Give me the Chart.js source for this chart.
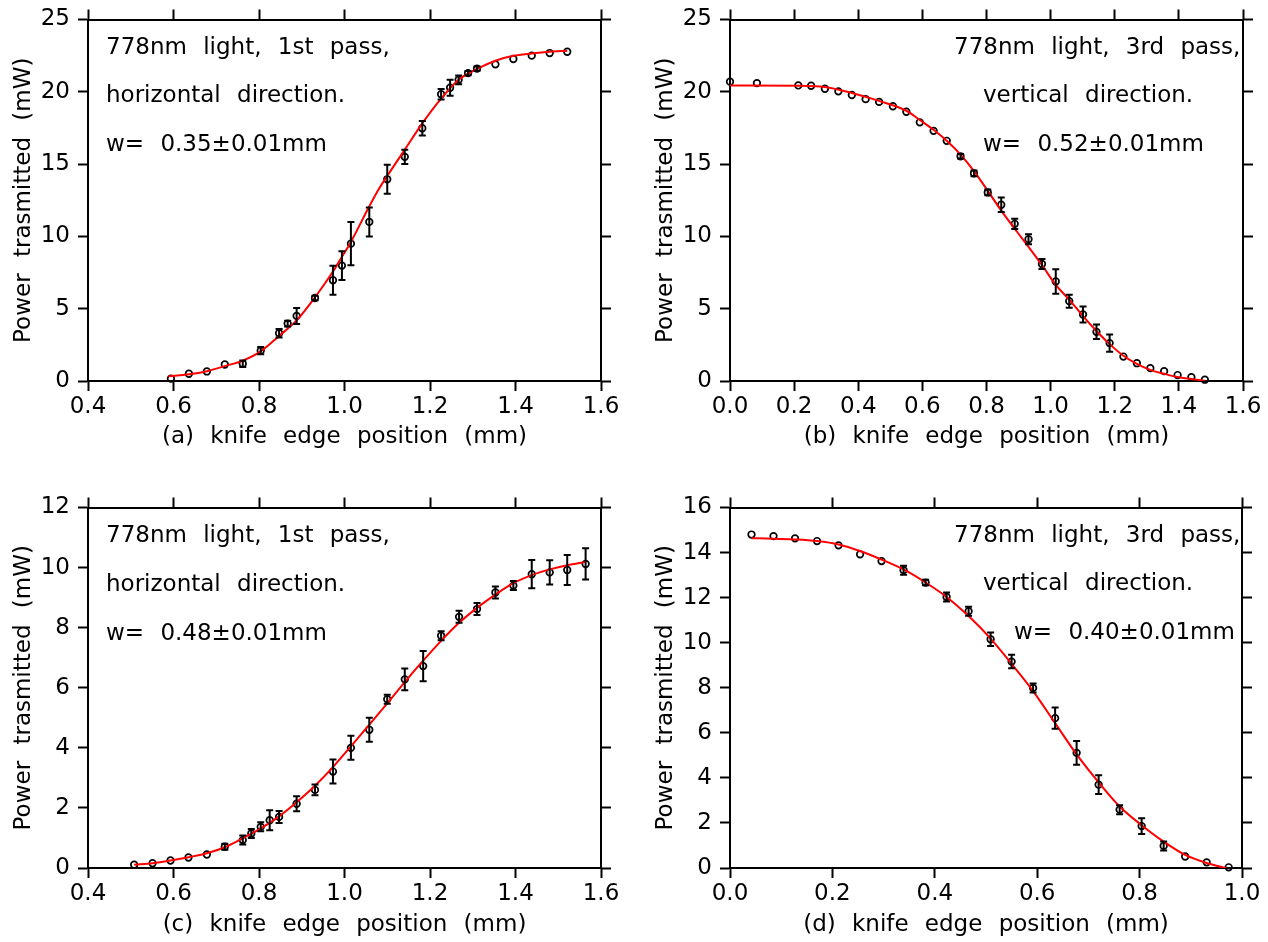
<!DOCTYPE html>
<html>
<head>
<meta charset="utf-8">
<title>Knife edge scans</title>
<script src="https://cdn.jsdelivr.net/npm/chart.js@4.4.1/dist/chart.umd.min.js"></script>
<style>
  html, body { margin: 0; padding: 0; background: #fff; overflow: hidden; }
  canvas { position: absolute; }
</style>
</head>
<body>
<canvas id="pa" width="640" height="460" style="left:0;top:0"></canvas>
<canvas id="pb" width="626" height="460" style="left:642px;top:0"></canvas>
<canvas id="pc" width="640" height="454" style="left:0;top:488px"></canvas>
<canvas id="pd" width="626" height="454" style="left:642px;top:488px"></canvas>
<script>
// (a) 1st pass, horizontal scan
const aPos = [0.594, 0.636, 0.678, 0.720, 0.762, 0.804, 0.847, 0.867, 0.888, 0.931, 0.973, 0.994, 1.015, 1.058,
              1.100, 1.141, 1.182, 1.226, 1.247, 1.267, 1.289, 1.310, 1.353, 1.395, 1.438, 1.480, 1.521];
const aPow = [0.16, 0.50, 0.66, 1.14, 1.19, 2.10, 3.30, 3.97, 4.50, 5.74, 6.97, 7.98, 9.50, 11.0,
              13.95, 15.5, 17.48, 19.83, 20.28, 20.83, 21.29, 21.60, 21.90, 22.27, 22.50, 22.68, 22.77];
const aErr = [0, 0, 0, 0, 0.23, 0.25, 0.3, 0.2, 0.55, 0.15, 1.0, 1.0, 1.5, 1.0,
              1.0, 0.5, 0.5, 0.36, 0.55, 0.3, 0.15, 0.15, 0, 0, 0, 0, 0];
const aFitPos = [0.588, 0.636, 0.678, 0.720, 0.762, 0.804, 0.847, 0.888, 0.931, 0.973, 0.994, 1.015, 1.058,
                 1.080, 1.100, 1.141, 1.182, 1.226, 1.267, 1.310, 1.353, 1.395, 1.438, 1.480, 1.521];
const aFitPow = [0.32, 0.46, 0.68, 1.03, 1.41, 2.05, 3.12, 4.19, 5.79, 7.57, 8.59, 9.62, 12.08,
                 13.26, 14.18, 16.0, 17.82, 19.53, 20.83, 21.58, 22.15, 22.49, 22.65, 22.77, 22.84];

// (b) 3rd pass, vertical scan
const bPos = [0.000, 0.084, 0.213, 0.253, 0.296, 0.338, 0.380, 0.423, 0.465, 0.508, 0.550, 0.592, 0.635,
              0.676, 0.719, 0.761, 0.804, 0.846, 0.888, 0.931, 0.973, 1.016, 1.058, 1.101, 1.143, 1.184,
              1.227, 1.269, 1.311, 1.354, 1.396, 1.439, 1.481];
const bPow = [20.70, 20.60, 20.44, 20.42, 20.21, 20.03, 19.78, 19.49, 19.30, 19.00, 18.62, 17.89, 17.30,
              16.61, 15.54, 14.36, 13.04, 12.19, 10.87, 9.80, 8.09, 6.88, 5.52, 4.60, 3.40, 2.62,
              1.69, 1.23, 0.89, 0.68, 0.41, 0.27, 0.09];
const bErr = [0, 0, 0, 0, 0, 0, 0, 0, 0, 0, 0, 0, 0,
              0, 0.15, 0.2, 0.2, 0.5, 0.35, 0.35, 0.35, 0.85, 0.45, 0.55, 0.5, 0.6,
              0, 0, 0, 0, 0, 0, 0];
const bFitPos = [0.000, 0.215, 0.296, 0.380, 0.465, 0.550, 0.592, 0.635, 0.676, 0.719, 0.761, 0.804, 0.846,
                 0.888, 0.931, 0.973, 1.016, 1.058, 1.101, 1.143, 1.184, 1.227, 1.269, 1.311, 1.354, 1.396,
                 1.439, 1.481];
const bFitPow = [20.44, 20.42, 20.33, 19.92, 19.37, 18.69, 18.05, 17.37, 16.61, 15.66, 14.52, 13.15, 11.78,
                 10.53, 9.28, 8.02, 6.65, 5.63, 4.49, 3.46, 2.55, 1.75, 1.19, 0.77, 0.50, 0.27,
                 0.14, 0.02];

// (c) 1st pass, horizontal scan
const cPos = [0.508, 0.551, 0.593, 0.635, 0.678, 0.720, 0.762, 0.782, 0.804, 0.825, 0.847, 0.888, 0.931, 0.973,
              1.015, 1.058, 1.100, 1.141, 1.184, 1.226, 1.268, 1.310, 1.353, 1.395, 1.438, 1.480, 1.521, 1.564];
const cPow = [0.11, 0.16, 0.25, 0.35, 0.45, 0.71, 0.93, 1.15, 1.37, 1.59, 1.70, 2.14, 2.60, 3.21,
              4.00, 4.60, 5.62, 6.28, 6.72, 7.73, 8.36, 8.62, 9.17, 9.40, 9.78, 9.84, 9.92, 10.12];
const cErr = [0, 0, 0, 0, 0, 0.1, 0.15, 0.15, 0.15, 0.33, 0.2, 0.25, 0.18, 0.4,
              0.4, 0.4, 0.15, 0.36, 0.5, 0.15, 0.2, 0.2, 0.2, 0.15, 0.47, 0.4, 0.5, 0.52];
const cFitPos = [0.508, 0.551, 0.593, 0.635, 0.678, 0.720, 0.762, 0.804, 0.847, 0.888, 0.931, 0.973, 1.015,
                 1.058, 1.100, 1.141, 1.184, 1.226, 1.268, 1.310, 1.353, 1.395, 1.438, 1.480, 1.521, 1.564];
const cFitPow = [0.11, 0.16, 0.25, 0.36, 0.49, 0.69, 0.99, 1.32, 1.72, 2.19, 2.74, 3.36, 4.05,
                 4.77, 5.48, 6.19, 6.90, 7.56, 8.16, 8.66, 9.10, 9.48, 9.75, 9.94, 10.08, 10.19];

// (d) 3rd pass, vertical scan
const dPos = [0.042, 0.085, 0.127, 0.170, 0.212, 0.254, 0.296, 0.339, 0.382, 0.423, 0.466, 0.509,
              0.550, 0.592, 0.635, 0.677, 0.720, 0.761, 0.804, 0.847, 0.889, 0.931, 0.974];
const dPow = [14.80, 14.73, 14.63, 14.51, 14.32, 13.92, 13.62, 13.22, 12.67, 12.03, 11.40, 10.15,
              9.16, 7.99, 6.65, 5.11, 3.70, 2.59, 1.86, 0.98, 0.51, 0.25, 0.03];
const dErr = [0, 0, 0, 0, 0, 0, 0, 0.2, 0.12, 0.2, 0.2, 0.3,
              0.3, 0.2, 0.47, 0.53, 0.42, 0.2, 0.35, 0.2, 0, 0, 0];
const dFitPos = [0.042, 0.085, 0.127, 0.170, 0.212, 0.254, 0.296, 0.339, 0.382, 0.423, 0.466, 0.509,
                 0.550, 0.592, 0.635, 0.677, 0.720, 0.761, 0.804, 0.847, 0.889, 0.931, 0.969];
const dFitPow = [14.64, 14.61, 14.58, 14.51, 14.36, 14.07, 13.69, 13.25, 12.67, 12.03, 11.18, 10.18,
                 9.06, 7.85, 6.43, 5.04, 3.80, 2.73, 1.90, 1.17, 0.58, 0.22, 0.00];

const yTitle = 'Power trasmitted (mW)';
const xTitle = 'knife edge position (mm)';

Chart.defaults.font.family = "'DejaVu Sans', sans-serif";
Chart.defaults.font.size = 23;
Chart.defaults.color = '#000';

const toXY = (xs, ys) => xs.map((x, i) => ({ x: x, y: ys[i] }));

// wide word gaps, set again after every canvas resize
const spacing = {
    id: 'spacing',
    beforeLayout(chart) { chart.ctx.wordSpacing = '9px'; },
    beforeDraw(chart) { chart.ctx.wordSpacing = '9px'; }
};

// vertical error bars with small caps, drawn on the data scale
const errorBars = {
    id: 'errorBars',
    afterDatasetsDraw(chart, args, opts) {
        const ctx = chart.ctx;
        const ys = chart.scales.y;
        const meta = chart.getDatasetMeta(1);
        const vals = chart.data.datasets[1].data;
        ctx.save();
        ctx.strokeStyle = '#000';
        ctx.lineWidth = 2;
        meta.data.forEach((pt, i) => {
            const e = opts.err[i];
            if (!e) return;
            const top = ys.getPixelForValue(vals[i].y + e);
            const bot = ys.getPixelForValue(vals[i].y - e);
            ctx.beginPath();
            ctx.moveTo(pt.x, top); ctx.lineTo(pt.x, bot);
            ctx.moveTo(pt.x - 3.5, top); ctx.lineTo(pt.x + 3.5, top);
            ctx.moveTo(pt.x - 3.5, bot); ctx.lineTo(pt.x + 3.5, bot);
            ctx.stroke();
        });
        ctx.restore();
    }
};

// three lines of notes inside the frame
const notes = {
    id: 'notes',
    afterDraw(chart, args, opts) {
        const ctx = chart.ctx;
        const area = chart.chartArea;
        ctx.save();
        ctx.font = "23px 'DejaVu Sans'";
        ctx.fillStyle = '#000';
        ctx.textBaseline = 'alphabetic';
        ctx.wordSpacing = '9px';
        opts.lines.forEach(l => ctx.fillText(l.text, area.left + l.dx, area.top + l.dy));
        ctx.restore();
    }
};

function axisGrid() {
    return { drawOnChartArea: false, drawTicks: true, tickLength: 10, tickWidth: 2, color: '#000', tickColor: '#000' };
}

function makePanel(id, p) {
    const canvas = document.getElementById(id);
    const W = canvas.width, H = canvas.height;
    return new Chart(canvas, {
        data: {
            datasets: [
                {
                    type: 'line',
                    data: toXY(p.fitX, p.fitY),
                    borderColor: '#ff0000',
                    borderWidth: 2,
                    pointRadius: 0,
                    cubicInterpolationMode: 'monotone',
                    order: 0
                },
                {
                    type: 'scatter',
                    data: toXY(p.x, p.y),
                    borderColor: '#000',
                    backgroundColor: 'rgba(0,0,0,0)',
                    pointRadius: 3.3,
                    pointBorderWidth: 1.7,
                    clip: false,
                    order: 1
                }
            ]
        },
        options: {
            responsive: false,
            animation: false,
            devicePixelRatio: 1,
            layout: { padding: 0 },
            plugins: {
                legend: { display: false },
                tooltip: { enabled: false },
                errorBars: { err: p.err },
                notes: { lines: p.notes }
            },
            scales: {
                x: {
                    type: 'linear', position: 'bottom',
                    min: p.xMin, max: p.xMax,
                    grid: axisGrid(),
                    border: { display: true, color: '#000', width: 2 },
                    ticks: {
                        stepSize: 0.2, autoSkip: false, maxRotation: 0, padding: 5,
                        font: { size: 23, lineHeight: 1 },
                        callback: v => v.toFixed(1)
                    },
                    title: { display: true, text: '(' + p.tag + ') ' + xTitle, padding: { top: 0, bottom: H - 450.8 } },
                    afterFit: s => { s.height = H - p.bottom; }
                },
                x2: {
                    type: 'linear', position: 'top',
                    min: p.xMin, max: p.xMax,
                    grid: axisGrid(),
                    border: { display: true, color: '#000', width: 2 },
                    ticks: { stepSize: 0.2, display: false },
                    afterFit: s => { s.height = 15; }
                },
                y: {
                    type: 'linear', position: 'left',
                    min: 0, max: p.yMax,
                    grid: axisGrid(),
                    border: { display: true, color: '#000', width: 2 },
                    ticks: {
                        stepSize: p.yStep, autoSkip: false, padding: 8,
                        font: { size: 23, lineHeight: 1 }
                    },
                    title: { display: true, text: yTitle, padding: { top: 10.5, bottom: 0 } },
                    afterFit: s => { s.width = 88; }
                },
                y2: {
                    type: 'linear', position: 'right',
                    min: 0, max: p.yMax,
                    grid: axisGrid(),
                    border: { display: true, color: '#000', width: 2 },
                    ticks: { stepSize: p.yStep, display: false },
                    afterFit: s => { s.width = W - p.right; }
                }
            }
        },
        plugins: [spacing, errorBars, notes]
    });
}

makePanel('pa', {
    tag: 'a', x: aPos, y: aPow, err: aErr, fitX: aFitPos, fitY: aFitPow,
    xMin: 0.4, xMax: 1.6, yMax: 25, yStep: 5,
    right: 601, bottom: 381,
    notes: [
        { text: '778nm light, 1st pass,', dx: 18, dy: 34 },
        { text: 'horizontal direction.', dx: 18, dy: 82 },
        { text: 'w= 0.35±0.01mm', dx: 18, dy: 131 }
    ]
});

makePanel('pb', {
    tag: 'b', x: bPos, y: bPow, err: bErr, fitX: bFitPos, fitY: bFitPow,
    xMin: 0, xMax: 1.6, yMax: 25, yStep: 5,
    right: 601, bottom: 381,
    notes: [
        { text: '778nm light, 3rd pass,', dx: 224, dy: 34 },
        { text: 'vertical direction.', dx: 253, dy: 82 },
        { text: 'w= 0.52±0.01mm', dx: 253, dy: 131 }
    ]
});

makePanel('pc', {
    tag: 'c', x: cPos, y: cPow, err: cErr, fitX: cFitPos, fitY: cFitPow,
    xMin: 0.4, xMax: 1.6, yMax: 12, yStep: 2,
    right: 601, bottom: 380,
    notes: [
        { text: '778nm light, 1st pass,', dx: 18, dy: 34 },
        { text: 'horizontal direction.', dx: 18, dy: 83 },
        { text: 'w= 0.48±0.01mm', dx: 18, dy: 132 }
    ]
});

makePanel('pd', {
    tag: 'd', x: dPos, y: dPow, err: dErr, fitX: dFitPos, fitY: dFitPow,
    xMin: 0, xMax: 1.0, yMax: 16, yStep: 2,
    right: 600, bottom: 380,
    notes: [
        { text: '778nm light, 3rd pass,', dx: 224, dy: 34 },
        { text: 'vertical direction.', dx: 253, dy: 82 },
        { text: 'w= 0.40±0.01mm', dx: 284, dy: 131 }
    ]
});
</script>
</body>
</html>
